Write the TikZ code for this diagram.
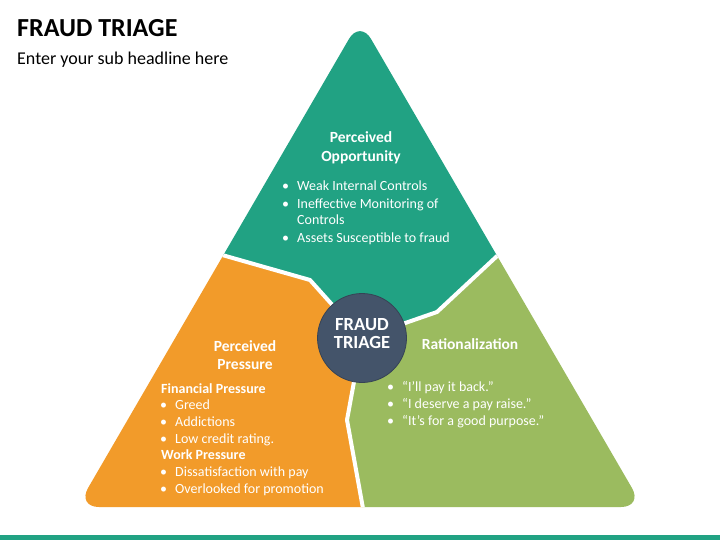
\documentclass[tikz,border=0pt]{standalone}
\usepackage{fontspec}
\setmainfont{Carlito}

\definecolor{triteal}{HTML}{21A283}
\definecolor{triorange}{HTML}{F29B2A}
\definecolor{trigreen}{HTML}{9BBB5F}
\definecolor{trislate}{HTML}{44546A}

\tikzset{
  head/.style={font=\bfseries\fontsize{15.5}{19}\selectfont, text=white, anchor=base, inner sep=0},
  subhead/.style={font=\bfseries\fontsize{14}{17}\selectfont, text=white, anchor=base west, inner sep=0},
  item/.style={font=\fontsize{14}{17}\selectfont, text=white, anchor=base west, inner sep=0},
  divider/.style={white, line width=4pt, line join=round},
}

\begin{document}
\begin{tikzpicture}[x=1pt,y=-1pt]
% Page
\useasboundingbox (0,0) rectangle (720,540);
\fill[white] (0,0) rectangle (720,540);

% Title
\node[anchor=base west, inner sep=0, font=\bfseries\fontsize{26}{30}\selectfont] (title) at (17,37) {FRAUD TRIAGE};
\node[anchor=base west, inner sep=0, font=\fontsize{18}{22}\selectfont] (subtitle) at (17,65) {Enter your sub headline here};

% Division points
\coordinate (hc) at (362,338);
\coordinate (lt) at (180,243);
\coordinate (lm) at (310,280);
\coordinate (rt) at (540,216);
\coordinate (rm) at (437,312);
\coordinate (bm) at (347,420);
\coordinate (bb) at (366,525);

% Triangle segments
\begin{scope}
  \clip[rounded corners=22pt] (360,20) -- (643,507) -- (77,507) -- cycle;
  \fill[triteal] (180,0) -- (lt) -- (lm) -- (hc) -- (rm) -- (rt) -- (540,0) -- cycle;
  \fill[triorange] (0,243) -- (lt) -- (lm) -- (hc) -- (bm) -- (bb) -- (0,525) -- cycle;
  \fill[trigreen] (hc) -- (rm) -- (rt) -- (720,216) -- (720,525) -- (bb) -- (bm) -- cycle;
  \draw[divider] (lt) -- (lm) -- (hc);
  \draw[divider] (rt) -- (rm) -- (hc);
  \draw[divider] (bb) -- (bm) -- (hc);
\end{scope}

% Center circle
\node[circle, fill=trislate, draw=trislate!80!black, line width=0.8pt, minimum size=89pt, inner sep=0] (hub) at (hc) {};
\node[head, font=\bfseries\fontsize{18.5}{22}\selectfont] (hub1) at (362,330) {FRAUD};
\node[head, font=\bfseries\fontsize{18.5}{22}\selectfont] (hub2) at (362,348) {TRIAGE};

% Perceived Opportunity
\node[head] (opp1) at (361,143) {Perceived};
\node[head] (opp2) at (361,162) {Opportunity};
\foreach \y/\t [count=\i] in {191/Weak Internal Controls,208/Ineffective Monitoring of,242/Assets Susceptible to fraud} {
  \node[item] (oppb\i) at (282,\y) {\textbullet};
  \node[item] (oppt\i) at (297,\y) {\t};
}
\node[item] (oppt4) at (297,225) {Controls};

% Perceived Pressure
\node[head] (pre1) at (245,351) {Perceived};
\node[head] (pre2) at (245,369) {Pressure};
\node[subhead] (fin) at (161,393) {Financial Pressure};
\foreach \y/\t [count=\i] in {409/Greed,426/Addictions,443/Low credit rating.} {
  \node[item] (finb\i) at (160,\y) {\textbullet};
  \node[item] (fint\i) at (175,\y) {\t};
}
\node[subhead] (work) at (161,459) {Work Pressure};
\foreach \y/\t [count=\i] in {476.5/Dissatisfaction with pay,493.5/Overlooked for promotion} {
  \node[item] (workb\i) at (160,\y) {\textbullet};
  \node[item] (workt\i) at (175,\y) {\t};
}

% Rationalization
\node[head] (rat) at (470,349.5) {Rationalization};
\foreach \y/\t [count=\i] in {391/“I’ll pay it back.”,408/“I deserve a pay raise.”,425/“It’s for a good purpose.”} {
  \node[item] (ratb\i) at (387,\y) {\textbullet};
  \node[item] (ratt\i) at (402,\y) {\t};
}

% Bottom bar
\fill[triteal] (0,535) rectangle (720,540);
\end{tikzpicture}
\end{document}
